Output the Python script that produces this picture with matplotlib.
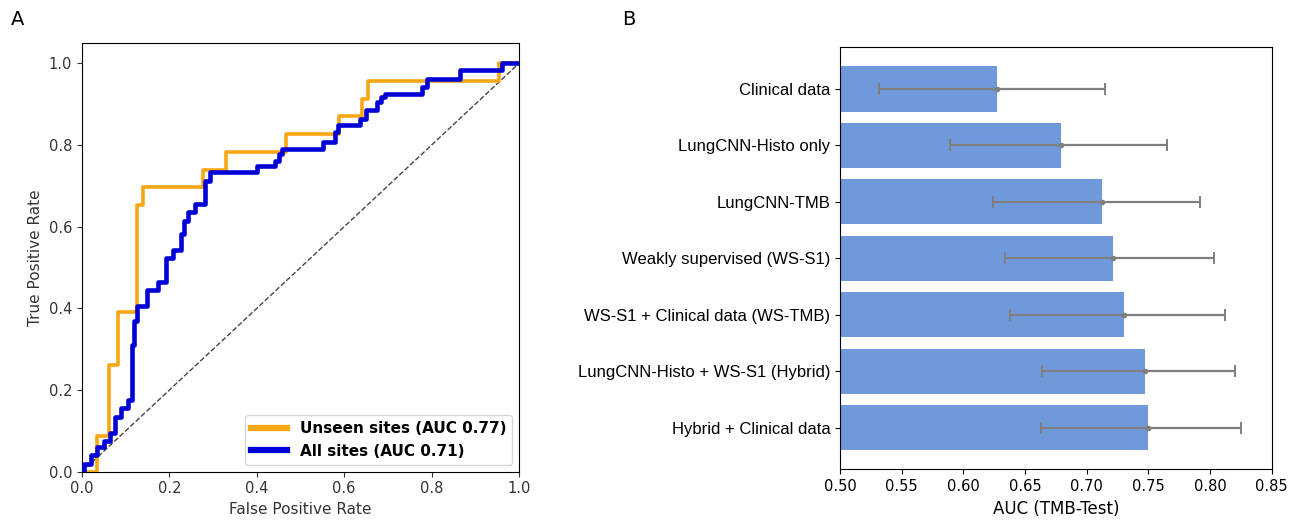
import matplotlib
matplotlib.use("Agg")
import matplotlib.pyplot as plt

# panel A: ROC curves (corner points of the step curves)
unseen_fpr = [0.0, 0.035, 0.035, 0.063, 0.063, 0.083, 0.083, 0.125, 0.125, 0.14, 0.14,
              0.278, 0.278, 0.33, 0.33, 0.468, 0.468, 0.588, 0.588, 0.64, 0.64,
              0.655, 0.655, 0.955, 0.955, 1.0]
unseen_tpr = [0.0, 0.0, 0.087, 0.087, 0.261, 0.261, 0.391, 0.391, 0.652, 0.652, 0.696,
              0.696, 0.739, 0.739, 0.783, 0.783, 0.826, 0.826, 0.870, 0.870, 0.913,
              0.913, 0.957, 0.957, 1.0, 1.0]

all_fpr = [0.0, 0.005, 0.005, 0.02, 0.02, 0.035, 0.035, 0.05, 0.05, 0.065, 0.065,
           0.075, 0.075, 0.09, 0.09, 0.105, 0.105, 0.115, 0.115, 0.12, 0.12, 0.125,
           0.125, 0.148, 0.148, 0.175, 0.175, 0.192, 0.192, 0.209, 0.209, 0.226,
           0.226, 0.233, 0.233, 0.243, 0.243, 0.259, 0.259, 0.281, 0.281, 0.292,
           0.292, 0.4, 0.4, 0.442, 0.442, 0.45, 0.45, 0.457, 0.457, 0.552, 0.552,
           0.579, 0.579, 0.587, 0.587, 0.636, 0.636, 0.651, 0.651, 0.674, 0.674,
           0.685, 0.685, 0.693, 0.693, 0.777, 0.777, 0.789, 0.789, 0.865, 0.865,
           0.962, 0.962, 1.0]
all_tpr = [0.0, 0.0, 0.02, 0.02, 0.04, 0.04, 0.06, 0.06, 0.075, 0.075, 0.095,
           0.095, 0.135, 0.135, 0.155, 0.155, 0.175, 0.175, 0.31, 0.31, 0.37, 0.37,
           0.405, 0.405, 0.445, 0.445, 0.465, 0.465, 0.524, 0.524, 0.542, 0.542,
           0.582, 0.582, 0.614, 0.614, 0.635, 0.635, 0.655, 0.655, 0.713, 0.713,
           0.733, 0.733, 0.749, 0.749, 0.762, 0.762, 0.778, 0.778, 0.79, 0.79, 0.807,
           0.807, 0.831, 0.831, 0.848, 0.848, 0.864, 0.864, 0.885, 0.885, 0.905,
           0.905, 0.917, 0.917, 0.926, 0.926, 0.942, 0.942, 0.962, 0.962, 0.983,
           0.983, 1.0, 1.0]

roc_labels = ["Unseen sites (AUC 0.77)", "All sites (AUC 0.71)"]

# panel B: AUC per model with confidence intervals
models = ["Clinical data", "LungCNN-Histo only", "LungCNN-TMB",
          "Weakly supervised (WS-S1)", "WS-S1 + Clinical data (WS-TMB)",
          "LungCNN-Histo + WS-S1 (Hybrid)", "Hybrid + Clinical data"]
auc = [0.627, 0.679, 0.712, 0.721, 0.730, 0.747, 0.750]
ci_low = [0.532, 0.589, 0.624, 0.634, 0.638, 0.664, 0.663]
ci_high = [0.715, 0.765, 0.792, 0.803, 0.812, 0.820, 0.825]

fig = plt.figure(figsize=(13.05, 5.21), dpi=100)

# ---- A ----
ax = fig.add_axes([0.0628, 0.0946, 0.3349, 0.823])
ax.plot(unseen_fpr, unseen_tpr, color="#f7a614", lw=2.6, label=roc_labels[0], zorder=3)
ax.plot(all_fpr, all_tpr, color="#0000d6", lw=3.3, label=roc_labels[1], zorder=4)
ax.plot([0, 1], [0, 1], color="#444444", lw=1.0, ls="--", zorder=2)
ax.set_xlim(0, 1)
ax.set_ylim(0, 1.05)
ax.set_xticks([0, 0.2, 0.4, 0.6, 0.8, 1.0])
ax.set_yticks([0, 0.2, 0.4, 0.6, 0.8, 1.0])
ax.tick_params(labelsize=10.5, colors="#333333")
ax.set_xlabel("False Positive Rate", fontsize=11, color="#333333")
ax.set_ylabel("True Positive Rate", fontsize=11, color="#333333")
leg = ax.legend(loc="lower right", prop={"weight": "bold", "size": 11},
                handlelength=2.4, borderaxespad=0.45)
for h in leg.get_lines():
    h.set_linewidth(4.5)

# ---- B ----
bx = fig.add_axes([0.6437, 0.0992, 0.3308, 0.810])
ypos = list(range(len(models)))
err = [[a - lo for a, lo in zip(auc, ci_low)], [hi - a for a, hi in zip(auc, ci_high)]]
bx.barh(ypos, auc, height=0.8, left=0, color="#7099db")
bx.errorbar(auc, ypos, xerr=err, fmt="o", ms=3, color="#7f7f7f", ecolor="#7f7f7f",
            elinewidth=1.6, capsize=4, capthick=1.4)
bx.set_yticks(ypos)
bx.set_yticklabels(models, fontsize=12, family="Liberation Sans")
bx.invert_yaxis()
bx.set_xlim(0.5, 0.85)
bx.set_xticks([0.50, 0.55, 0.60, 0.65, 0.70, 0.75, 0.80, 0.85])
bx.set_xticklabels(["0.50", "0.55", "0.60", "0.65", "0.70", "0.75", "0.80", "0.85"])
bx.tick_params(axis="x", labelsize=10.5)
bx.set_xlabel("AUC (TMB-Test)", fontsize=12)

fig.text(0.008, 0.962, "A", fontsize=14, va="center", ha="left")
fig.text(0.477, 0.962, "B", fontsize=14, va="center", ha="left")

fig.savefig("out.png", dpi=100)
